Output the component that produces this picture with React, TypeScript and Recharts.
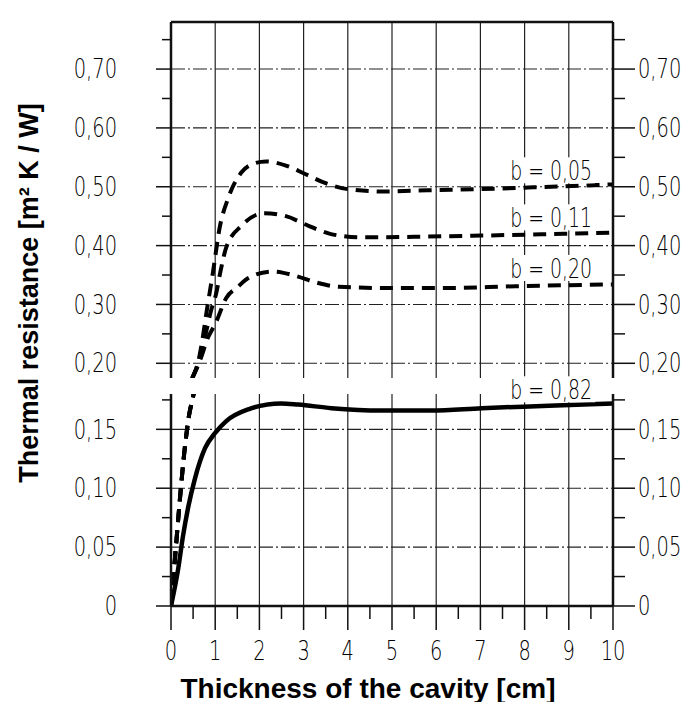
import { LineChart, Line, XAxis, YAxis, ReferenceLine, ReferenceDot } from 'recharts';

// x axis: thickness of the cavity [cm]
const xTicks = [0, 0.5, 1, 1.5, 2, 2.5, 3, 3.5, 4, 4.5, 5, 5.5, 6, 6.5, 7, 7.5, 8, 8.5, 9, 9.5, 10];
const xMajor = [0, 1, 2, 3, 4, 5, 6, 7, 8, 9, 10];
const xGrid = [1, 2, 3, 4, 5, 6, 7, 8, 9];

// broken y axis: upper part 0,20 .. 0,70, lower part 0 .. 0,15
const upperDomain = [0.175, 0.78];
const upperTicks = [0.2, 0.25, 0.3, 0.35, 0.4, 0.45, 0.5, 0.55, 0.6, 0.65, 0.7, 0.75];
const upperLabels = [0.2, 0.3, 0.4, 0.5, 0.6, 0.7];
const lowerDomain = [0, 0.18];
const lowerTicks = [0, 0.025, 0.05, 0.075, 0.1, 0.125, 0.15, 0.175];
const lowerLabels = [0, 0.05, 0.1, 0.15];

// thermal resistance [m2 K / W] vs thickness, per emissivity b
const b005 = [
  { x: 0, r: 0 }, { x: 0.1, r: 0.045 }, { x: 0.2, r: 0.09 }, { x: 0.3, r: 0.13 }, { x: 0.4, r: 0.16 },
  { x: 0.5, r: 0.178 }, { x: 0.6, r: 0.198 }, { x: 0.7, r: 0.235 }, { x: 0.8, r: 0.285 }, { x: 0.95, r: 0.355 },
  { x: 1.1, r: 0.43 }, { x: 1.3, r: 0.482 }, { x: 1.6, r: 0.525 }, { x: 1.9, r: 0.54 }, { x: 2.15, r: 0.543 },
  { x: 2.6, r: 0.536 }, { x: 3.0, r: 0.523 }, { x: 3.5, r: 0.506 }, { x: 4.0, r: 0.496 }, { x: 4.8, r: 0.492 },
  { x: 5.8, r: 0.494 }, { x: 7, r: 0.496 }, { x: 8.2, r: 0.499 }, { x: 10, r: 0.504 },
];
const b011 = [
  { x: 0, r: 0 }, { x: 0.1, r: 0.045 }, { x: 0.2, r: 0.09 }, { x: 0.3, r: 0.13 }, { x: 0.4, r: 0.16 },
  { x: 0.5, r: 0.178 }, { x: 0.6, r: 0.196 }, { x: 0.7, r: 0.222 }, { x: 0.8, r: 0.255 }, { x: 0.9, r: 0.288 },
  { x: 1.02, r: 0.318 }, { x: 1.13, r: 0.36 }, { x: 1.25, r: 0.397 }, { x: 1.6, r: 0.434 }, { x: 2.1, r: 0.455 },
  { x: 2.6, r: 0.45 }, { x: 3.1, r: 0.434 }, { x: 3.6, r: 0.42 }, { x: 4.3, r: 0.414 }, { x: 5.5, r: 0.415 },
  { x: 7, r: 0.417 }, { x: 10, r: 0.422 },
];
const b020 = [
  { x: 0, r: 0 }, { x: 0.1, r: 0.045 }, { x: 0.2, r: 0.09 }, { x: 0.3, r: 0.13 }, { x: 0.4, r: 0.16 },
  { x: 0.5, r: 0.178 }, { x: 0.6, r: 0.194 }, { x: 0.7, r: 0.214 }, { x: 0.8, r: 0.237 }, { x: 1.02, r: 0.27 },
  { x: 1.25, r: 0.311 }, { x: 1.5, r: 0.329 }, { x: 1.75, r: 0.345 }, { x: 2.3, r: 0.356 }, { x: 2.8, r: 0.349 },
  { x: 3.3, r: 0.337 }, { x: 3.8, r: 0.33 }, { x: 4.8, r: 0.328 }, { x: 6.2, r: 0.328 }, { x: 7.8, r: 0.331 },
  { x: 10, r: 0.334 },
];
const b082 = [
  { x: 0, r: 0 }, { x: 0.16, r: 0.031 }, { x: 0.27, r: 0.059 }, { x: 0.39, r: 0.084 }, { x: 0.54, r: 0.108 },
  { x: 0.77, r: 0.134 }, { x: 1.0, r: 0.147 }, { x: 1.25, r: 0.157 }, { x: 1.75, r: 0.167 }, { x: 2.49, r: 0.172 },
  { x: 2.88, r: 0.171 }, { x: 3.63, r: 0.168 }, { x: 4.76, r: 0.166 }, { x: 5.9, r: 0.166 }, { x: 7.03, r: 0.168 },
  { x: 8.55, r: 0.17 }, { x: 10, r: 0.172 },
];

const dashed = [
  { name: 'b = 0,05', data: b005, tag: { x: 8.6, r: 0.528 } },
  { name: 'b = 0,11', data: b011, tag: { x: 8.6, r: 0.448 } },
  { name: 'b = 0,20', data: b020, tag: { x: 8.6, r: 0.362 } },
];
const solid = { name: 'b = 0,82', data: b082, tag: { x: 8.6, r: 0.184 } };

const W = 697;
const H = 702;
const INK = '#111';
const numFont = { fontFamily: 'DejaVu Sans', fontWeight: 200, fontSize: 27, fill: '#000' };

const near = (v: number, list: number[]) => list.some((l) => Math.abs(l - v) < 1e-6);
const fmt = (v: number) => (v === 0 ? '0' : v.toFixed(2).replace('.', ','));

function LeftTick(props: any) {
  const { x, y, payload, labels } = props;
  const major = near(payload.value, labels);
  return (
    <g>
      <line x1={x - (major ? 15 : 9)} x2={x} y1={y} y2={y} stroke={INK} strokeWidth={1.5} />
      {major && (
        <text transform={`translate(${x - 54},${y}) scale(0.72,1)`} textAnchor="end" dominantBaseline="central" {...numFont}>
          {fmt(payload.value)}
        </text>
      )}
    </g>
  );
}

function RightTick(props: any) {
  const { x, y, payload, labels } = props;
  const major = near(payload.value, labels);
  return (
    <g>
      <line x1={x} x2={x + (major ? 22 : 12)} y1={y} y2={y} stroke={INK} strokeWidth={1.5} />
      {major && (
        <text transform={`translate(${x + 25},${y}) scale(0.72,1)`} textAnchor="start" dominantBaseline="central" {...numFont}>
          {fmt(payload.value)}
        </text>
      )}
    </g>
  );
}

function BottomTick(props: any) {
  const { x, y, payload } = props;
  const major = near(payload.value, xMajor);
  return (
    <g>
      <line x1={x} x2={x} y1={y} y2={y + (major ? 24 : 13)} stroke={INK} strokeWidth={1.5} />
      {major && (
        <text transform={`translate(${x},${y + 45}) scale(0.72,1)`} textAnchor="middle" dominantBaseline="central" {...numFont}>
          {String(payload.value)}
        </text>
      )}
    </g>
  );
}

function CurveTag(props: any) {
  const { viewBox, value } = props;
  const cx = viewBox.x + (viewBox.width || 0) / 2;
  const cy = viewBox.y + (viewBox.height || 0) / 2;
  return (
    <g>
      <rect x={cx - 44} y={cy - 13} width={88} height={26} fill="#fff" />
      <text transform={`translate(${cx},${cy}) scale(0.7,1)`} textAnchor="middle" dominantBaseline="central" {...numFont}>
        {value}
      </text>
    </g>
  );
}

const YTitle = () => (
  <text x={29} y={293} transform="rotate(-90 29 293)" textAnchor="middle" dominantBaseline="central"
    fontFamily="Liberation Sans, Arial, sans-serif" fontWeight={700} fontSize={27} fill="#000">
    Thermal resistance [m² K / W]
  </text>
);

const XTitle = () => (
  <text x={368} y={688} textAnchor="middle" dominantBaseline="central"
    fontFamily="Liberation Sans, Arial, sans-serif" fontWeight={700} fontSize={28} fill="#000">
    Thickness of the cavity [cm]
  </text>
);

const gridDash = '14 3 2 3';

export default function App() {
  return (
    <div style={{ position: 'absolute', left: 0, top: 0, width: W, height: H, background: '#fff' }}>
      {/* upper part of the broken axis */}
      <div style={{ position: 'absolute', left: 0, top: 0 }}>
        <LineChart width={W} height={H} margin={{ top: 22, right: 0, bottom: 324, left: 0 }}>
          <XAxis dataKey="x" type="number" domain={[0, 10]} allowDataOverflow hide />
          <YAxis yAxisId="left" type="number" domain={upperDomain} allowDataOverflow ticks={upperTicks} interval={0}
            width={171} tickSize={0} tickMargin={0} axisLine={{ stroke: INK, strokeWidth: 2.5 }}
            tick={<LeftTick labels={upperLabels} />} label={<YTitle />} />
          <YAxis yAxisId="right" orientation="right" type="number" domain={upperDomain} allowDataOverflow ticks={upperTicks}
            interval={0} width={84} tickSize={0} tickMargin={0} axisLine={{ stroke: INK, strokeWidth: 2.5 }}
            tick={<RightTick labels={upperLabels} />} />
          {xGrid.map((g) => (
            <ReferenceLine key={`v${g}`} yAxisId="left" x={g} stroke="#222" strokeWidth={1.2} />
          ))}
          {upperLabels.map((g) => (
            <ReferenceLine key={`h${g}`} yAxisId="left" y={g} stroke="#222" strokeWidth={1.1} strokeDasharray={gridDash} />
          ))}
          <ReferenceLine yAxisId="left" y={upperDomain[1]} stroke={INK} strokeWidth={2.5} />
          {dashed.map((s) => (
            <Line key={s.name} yAxisId="left" data={s.data} dataKey="r" type="monotone" stroke="#000" strokeWidth={4}
              strokeDasharray="13 8" dot={false} isAnimationActive={false} />
          ))}
          {dashed.map((s) => (
            <ReferenceDot key={`t${s.name}`} yAxisId="left" x={s.tag.x} y={s.tag.r} r={0} stroke="none" fill="none"
              ifOverflow="visible" label={<CurveTag value={s.name} />} />
          ))}
        </LineChart>
      </div>
      {/* lower part of the broken axis */}
      <div style={{ position: 'absolute', left: 0, top: 0 }}>
        <LineChart width={W} height={H} margin={{ top: 394, right: 0, bottom: 0, left: 0 }}>
          <XAxis dataKey="x" type="number" domain={[0, 10]} allowDataOverflow ticks={xTicks} interval={0} height={96}
            tickSize={0} tickMargin={0} axisLine={{ stroke: INK, strokeWidth: 2.5 }} tick={<BottomTick />}
            label={<XTitle />} />
          <YAxis yAxisId="left" type="number" domain={lowerDomain} allowDataOverflow ticks={lowerTicks} interval={0}
            width={171} tickSize={0} tickMargin={0} axisLine={{ stroke: INK, strokeWidth: 2.5 }}
            tick={<LeftTick labels={lowerLabels} />} />
          <YAxis yAxisId="right" orientation="right" type="number" domain={lowerDomain} allowDataOverflow ticks={lowerTicks}
            interval={0} width={84} tickSize={0} tickMargin={0} axisLine={{ stroke: INK, strokeWidth: 2.5 }}
            tick={<RightTick labels={lowerLabels} />} />
          {xGrid.map((g) => (
            <ReferenceLine key={`v${g}`} yAxisId="left" x={g} stroke="#222" strokeWidth={1.2} />
          ))}
          {lowerLabels.filter((g) => g > 0).map((g) => (
            <ReferenceLine key={`h${g}`} yAxisId="left" y={g} stroke="#222" strokeWidth={1.1} strokeDasharray={gridDash} />
          ))}
          {dashed.map((s) => (
            <Line key={s.name} yAxisId="left" data={s.data} dataKey="r" type="monotone" stroke="#000" strokeWidth={4}
              strokeDasharray="13 8" dot={false} isAnimationActive={false} />
          ))}
          <Line yAxisId="left" data={solid.data} dataKey="r" type="monotone" stroke="#000" strokeWidth={4.5}
            dot={false} isAnimationActive={false} />
          <ReferenceDot yAxisId="left" x={solid.tag.x} y={solid.tag.r} r={0} stroke="none" fill="none"
            ifOverflow="visible" label={<CurveTag value={solid.name} />} />
        </LineChart>
      </div>
    </div>
  );
}
